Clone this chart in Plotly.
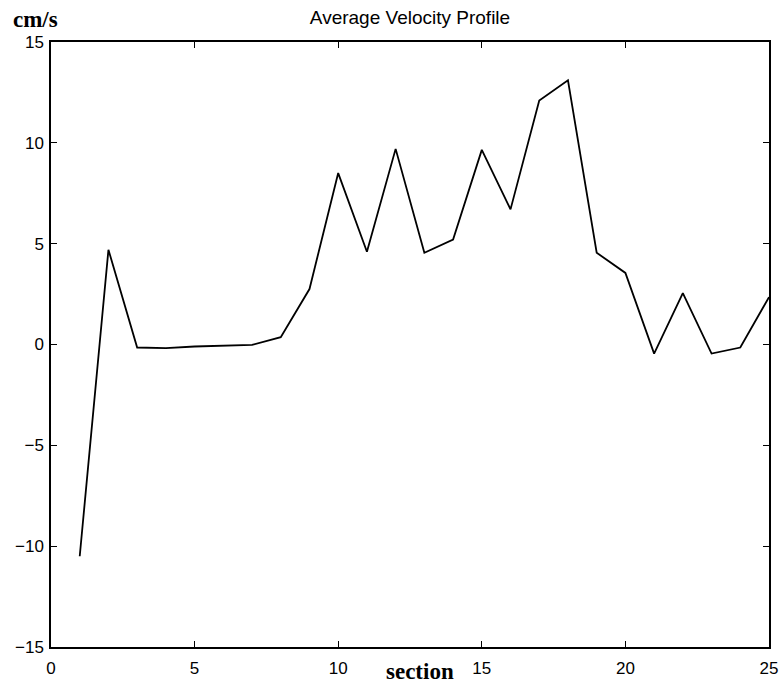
import plotly.graph_objects as go

# Average velocity per section (cm/s)
sections = list(range(1, 26))
velocity = [-10.5, 4.7, -0.15, -0.18, -0.1, -0.06, -0.02, 0.36, 2.75, 8.5,
            4.6, 9.7, 4.55, 5.2, 9.65, 6.7, 12.1, 13.1, 4.55, 3.55,
            -0.45, 2.55, -0.45, -0.15, 2.35]

x_ticks = [0, 5, 10, 15, 20, 25]
y_ticks = [-15, -10, -5, 0, 5, 10, 15]
y_tick_text = ["\u221215", "\u221210", "\u22125", "0", "5", "10", "15"]

fig = go.Figure()
fig.add_trace(go.Scatter(
    x=sections, y=velocity, mode="lines",
    line=dict(color="black", width=1.8),
    showlegend=False, hoverinfo="skip",
))

tick_font = dict(family="Liberation Sans, Arial, sans-serif", size=17, color="black")
axis_common = dict(
    showgrid=False, zeroline=False, automargin=False,
    showline=True, linecolor="black", linewidth=1.5, mirror="ticks",
    ticks="inside", ticklen=6, tickwidth=1.2, tickcolor="black",
    tickfont=tick_font,
)

fig.update_xaxes(range=[0, 25], tickvals=x_ticks, ticktext=[str(v) for v in x_ticks],
                 ticklabelstandoff=5, **axis_common)
fig.update_yaxes(range=[-15, 15], tickvals=y_ticks, ticktext=y_tick_text,
                 ticklabelstandoff=2, **axis_common)

fig.update_layout(
    width=782, height=683,
    margin=dict(l=51, r=13, t=42, b=36),
    paper_bgcolor="white", plot_bgcolor="white",
    title=dict(text="Average Velocity Profile", xref="paper", x=0.5, xanchor="center",
               y=1 - 17 / 683, yanchor="middle",
               font=dict(family="Liberation Sans, Arial, sans-serif", size=19, color="black")),
    annotations=[
        dict(text="<b>cm/s</b>", xref="paper", yref="paper",
             x=-40 / 718, y=1 + 22 / 605, xanchor="left", yanchor="middle",
             showarrow=False,
             font=dict(family="Liberation Serif, Times New Roman, serif", size=23, color="black")),
        dict(text="<b>section</b>", xref="paper", yref="paper",
             x=(420 - 51) / 718, y=-24 / 605, xanchor="center", yanchor="middle",
             showarrow=False,
             font=dict(family="Liberation Serif, Times New Roman, serif", size=23, color="black")),
    ],
)

fig.write_html("out.html")
